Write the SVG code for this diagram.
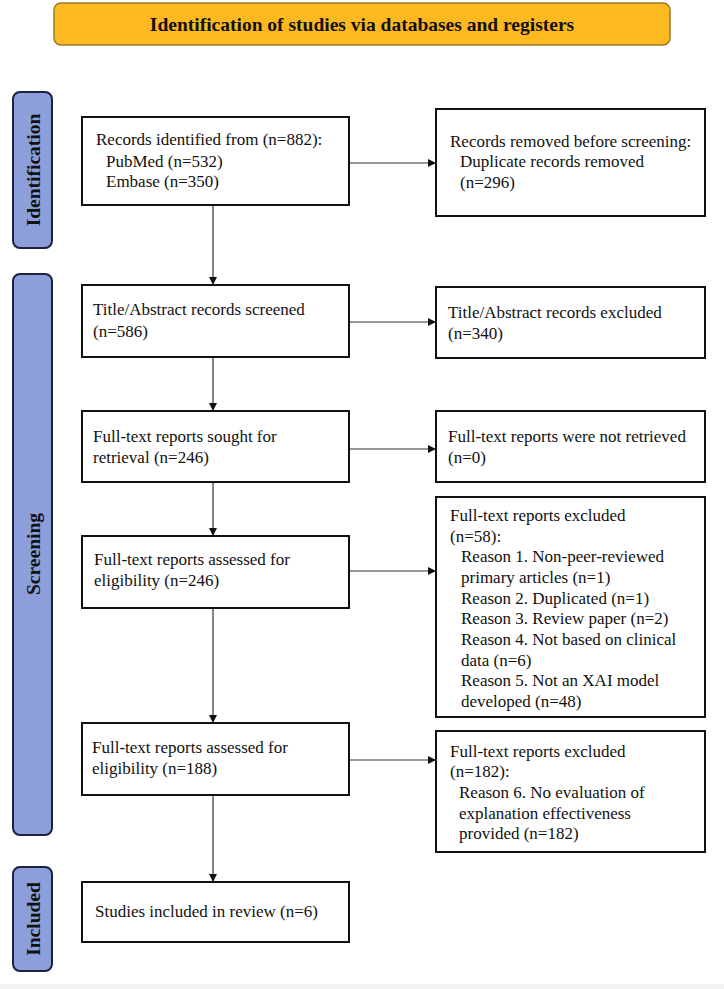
<svg xmlns="http://www.w3.org/2000/svg" width="724" height="989" viewBox="0 0 724 989">
<defs>
<style>
.box{fill:#fff;stroke:#111;stroke-width:2}
.t{font-family:"Liberation Serif","Times New Roman",serif;font-size:17px;fill:#111}
.side{fill:#8C9FDB;stroke:#1C2340;stroke-width:2}
.sl{font-family:"Liberation Serif","Times New Roman",serif;font-size:19.5px;font-weight:bold;fill:#111;text-anchor:middle}
.c{stroke:#333;stroke-width:1.2;fill:none;marker-end:url(#ah)}
</style>
<marker id="ah" viewBox="0 0 10 10" refX="10" refY="5" markerWidth="8" markerHeight="8" markerUnits="userSpaceOnUse" orient="auto">
<path d="M0,0 L10,5 L0,10 z" fill="#111"/>
</marker>
</defs>
<rect x="0" y="0" width="724" height="989" fill="#fff"/>
<rect x="0" y="984" width="724" height="5" fill="#f3f3f3"/>

<g id="banner">
<rect x="54" y="3" width="616" height="42" rx="7" fill="#FDB91F" stroke="#9C7A2A" stroke-width="1.5"/>
<text x="362" y="31" text-anchor="middle" font-family="'Liberation Serif','Times New Roman',serif" font-size="19.5" font-weight="bold" fill="#111">Identification of studies via databases and registers</text>
</g>

<g id="phase-identification">
<rect class="side" x="13" y="92" width="39" height="156" rx="7"/>
<text class="sl" transform="translate(40,170) rotate(-90)">Identification</text>
</g>
<g id="phase-screening">
<rect class="side" x="13" y="274" width="39" height="561" rx="7"/>
<text class="sl" transform="translate(40,554) rotate(-90)">Screening</text>
</g>
<g id="phase-included">
<rect class="side" x="13" y="867" width="39" height="104" rx="7"/>
<text class="sl" transform="translate(40,919) rotate(-90)">Included</text>
</g>

<g id="connectors">
<line class="c" x1="213" y1="205" x2="213" y2="285"/>
<line class="c" x1="213" y1="357" x2="213" y2="411"/>
<line class="c" x1="213" y1="482" x2="213" y2="536"/>
<line class="c" x1="213" y1="608" x2="213" y2="723"/>
<line class="c" x1="213" y1="795" x2="213" y2="882"/>
<line class="c" x1="349" y1="163" x2="436" y2="163"/>
<line class="c" x1="349" y1="322" x2="436" y2="322"/>
<line class="c" x1="349" y1="449" x2="436" y2="449"/>
<line class="c" x1="349" y1="571" x2="436" y2="571"/>
<line class="c" x1="349" y1="760" x2="436" y2="760"/>
</g>

<g id="records-identified">
<rect class="box" x="82" y="117" width="267" height="88"/>
<text class="t" x="96" y="145">Records identified from (n=882):</text>
<text class="t" x="106" y="167">PubMed (n=532)</text>
<text class="t" x="106" y="187">Embase (n=350)</text>
</g>
<g id="records-removed">
<rect class="box" x="436" y="109" width="269" height="107"/>
<text class="t" x="450" y="147">Records removed before screening:</text>
<text class="t" x="460" y="167">Duplicate records removed</text>
<text class="t" x="460" y="188">(n=296)</text>
</g>

<g id="screened">
<rect class="box" x="82" y="285" width="267" height="72"/>
<text class="t" x="93" y="315">Title/Abstract records screened</text>
<text class="t" x="93" y="337">(n=586)</text>
</g>
<g id="excluded-abstract">
<rect class="box" x="436" y="287" width="269" height="71"/>
<text class="t" x="448" y="318">Title/Abstract records excluded</text>
<text class="t" x="448" y="339">(n=340)</text>
</g>

<g id="sought">
<rect class="box" x="82" y="411" width="267" height="71"/>
<text class="t" x="93" y="442">Full-text reports sought for</text>
<text class="t" x="93" y="463">retrieval (n=246)</text>
</g>
<g id="not-retrieved">
<rect class="box" x="436" y="411" width="269" height="71"/>
<text class="t" x="448" y="442">Full-text reports were not retrieved</text>
<text class="t" x="448" y="463">(n=0)</text>
</g>

<g id="assessed-246">
<rect class="box" x="82" y="536" width="267" height="72"/>
<text class="t" x="94" y="565">Full-text reports assessed for</text>
<text class="t" x="94" y="586">eligibility (n=246)</text>
</g>
<g id="excluded-58">
<rect class="box" x="436" y="497" width="269" height="220"/>
<text class="t" x="450" y="521">Full-text reports excluded</text>
<text class="t" x="450" y="542">(n=58):</text>
<text class="t" x="461" y="562">Reason 1. Non-peer-reviewed</text>
<text class="t" x="461" y="583">primary articles (n=1)</text>
<text class="t" x="461" y="604">Reason 2. Duplicated (n=1)</text>
<text class="t" x="461" y="624">Reason 3. Review paper (n=2)</text>
<text class="t" x="461" y="645">Reason 4. Not based on clinical</text>
<text class="t" x="461" y="666">data (n=6)</text>
<text class="t" x="461" y="686">Reason 5. Not an XAI model</text>
<text class="t" x="461" y="707">developed (n=48)</text>
</g>

<g id="assessed-188">
<rect class="box" x="82" y="723" width="267" height="72"/>
<text class="t" x="92" y="753">Full-text reports assessed for</text>
<text class="t" x="92" y="774">eligibility (n=188)</text>
</g>
<g id="excluded-182">
<rect class="box" x="436" y="731" width="269" height="121"/>
<text class="t" x="450" y="757">Full-text reports excluded</text>
<text class="t" x="450" y="777">(n=182):</text>
<text class="t" x="459" y="798">Reason 6. No evaluation of</text>
<text class="t" x="459" y="819">explanation effectiveness</text>
<text class="t" x="459" y="839">provided (n=182)</text>
</g>

<g id="included">
<rect class="box" x="82" y="882" width="267" height="60"/>
<text class="t" x="95" y="917">Studies included in review (n=6)</text>
</g>
</svg>
